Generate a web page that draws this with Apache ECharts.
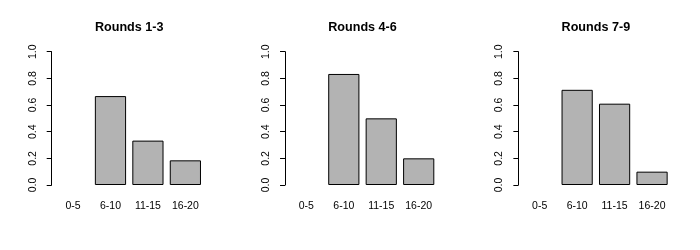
<!DOCTYPE html>
<html>
<head>
<meta charset="utf-8">
<script src="https://cdn.jsdelivr.net/npm/echarts@6/dist/echarts.min.js"></script>
<style>
html,body{margin:0;padding:0;background:#fff;}
#chart{width:700px;height:250px;}
</style>
</head>
<body>
<div id="chart"></div>
<script>
var categories = ['0-5', '6-10', '11-15', '16-20'];
var titles = ['Rounds 1-3', 'Rounds 4-6', 'Rounds 7-9'];
var rounds1to3 = [null, 0.667, 0.333, 0.185];
var rounds4to6 = [null, 0.833, 0.5, 0.2];
var rounds7to9 = [null, 0.714, 0.61, 0.1];
var yMin = 0, yMax = 1, yInterval = 0.2;

var seriesData = [rounds1to3, rounds4to6, rounds7to9];
var FONT = '"Liberation Sans", Arial, Helvetica, sans-serif';
var panelW = 700 / 3;
var gridLeft0 = 54.3, gridW = 149.8, gridTop = 51.7, gridBottomY = 185;

var chart = echarts.init(document.getElementById('chart'), null, {renderer: 'canvas'});
var option = {
  backgroundColor: '#fff',
  animation: false,
  title: [], grid: [], xAxis: [], yAxis: [], series: []
};
for (var k = 0; k < 3; k++) {
  var gl = gridLeft0 + panelW * k;
  option.title.push({
    text: titles[k],
    left: gl + gridW / 2,
    top: 21,
    textAlign: 'center',
    padding: 0,
    textStyle: {fontFamily: FONT, fontSize: 12.6, fontWeight: 'bold', color: '#000'}
  });
  option.grid.push({
    left: gl, top: gridTop, width: gridW, height: gridBottomY - gridTop,
    containLabel: false
  });
  option.xAxis.push({
    type: 'category', gridIndex: k, data: categories,
    axisLine: {show: false}, axisTick: {show: false},
    axisLabel: {fontFamily: FONT, fontSize: 10.5, color: '#000', margin: 15.5, interval: 0}
  });
  option.yAxis.push({
    type: 'value', gridIndex: k, min: yMin, max: yMax, interval: yInterval,
    offset: 2.6,
    axisLine: {show: true, lineStyle: {color: '#000', width: 1}},
    axisTick: {show: true, length: 5, lineStyle: {color: '#000', width: 1}},
    splitLine: {show: false},
    axisLabel: {
      fontFamily: FONT, fontSize: 10.5, color: '#000', rotate: 90, margin: 13.5,
      formatter: function (v) { return v.toFixed(1); }
    }
  });
  option.series.push({
    type: 'bar', xAxisIndex: k, yAxisIndex: k, data: seriesData[k],
    barCategoryGap: '16.67%',
    itemStyle: {color: '#b3b3b3', borderColor: '#000', borderWidth: 1},
    emphasis: {disabled: true}
  });
}
chart.setOption(option);
</script>
</body>
</html>
